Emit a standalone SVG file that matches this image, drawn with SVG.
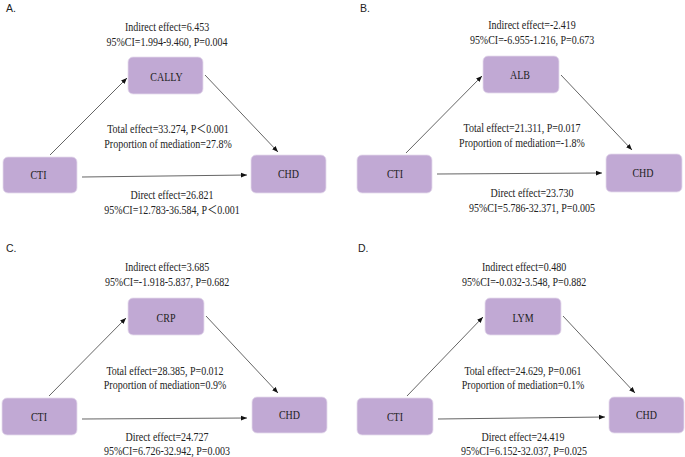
<svg xmlns="http://www.w3.org/2000/svg" width="685" height="457" viewBox="0 0 685 457">
<defs>
<marker id="ah" viewBox="0 0 10 10" refX="10" refY="5" markerWidth="6" markerHeight="6" orient="auto" markerUnits="userSpaceOnUse">
<path d="M0,1 L10,5 L0,9 z" fill="#111"/>
</marker>
<style>
.box{fill:#c1a9d4;stroke:#e4dbec;stroke-width:0.8}
.nt{font-family:"Liberation Serif","Times New Roman",serif;font-size:11.5px;fill:#222;text-anchor:middle}
.lt{font-family:"Liberation Serif","Times New Roman","Noto Sans CJK SC",serif;font-size:11.5px;fill:#222;text-anchor:middle}
.pl{font-family:"Liberation Sans",Arial,sans-serif;font-size:10.5px;fill:#222}
.ln{stroke:#222;stroke-width:0.7;fill:none;marker-end:url(#ah)}
</style>
</defs>
<rect width="685" height="457" fill="#fff"/>

<g id="labels">
<text class="pl" x="6" y="12">A.</text>
<text class="pl" x="360" y="12">B.</text>
<text class="pl" x="6" y="252">C.</text>
<text class="pl" x="358" y="252">D.</text>

<text class="lt" transform="translate(167,30.5) scale(0.87,1)">Indirect effect=6.453</text>
<text class="lt" transform="translate(167,45.5) scale(0.87,1)">95%CI=1.994-9.460, P=0.004</text>
<text class="lt" transform="translate(168,133) scale(0.87,1)">Total effect=33.274, P＜0.001</text>
<text class="lt" transform="translate(168,148) scale(0.87,1)">Proportion of mediation=27.8%</text>
<text class="lt" transform="translate(172,199) scale(0.87,1)">Direct effect=26.821</text>
<text class="lt" transform="translate(172,214) scale(0.87,1)">95%CI=12.783-36.584, P＜0.001</text>

<text class="lt" transform="translate(532,29) scale(0.87,1)">Indirect effect=-2.419</text>
<text class="lt" transform="translate(532,44) scale(0.87,1)">95%CI=-6.955-1.216, P=0.673</text>
<text class="lt" transform="translate(522,132) scale(0.87,1)">Total effect=21.311, P=0.017</text>
<text class="lt" transform="translate(522,147) scale(0.87,1)">Proportion of mediation=-1.8%</text>
<text class="lt" transform="translate(532,197) scale(0.87,1)">Direct effect=23.730</text>
<text class="lt" transform="translate(532,212) scale(0.87,1)">95%CI=5.786-32.371, P=0.005</text>

<text class="lt" transform="translate(167,270.5) scale(0.87,1)">Indirect effect=3.685</text>
<text class="lt" transform="translate(167,285.5) scale(0.87,1)">95%CI=-1.918-5.837, P=0.682</text>
<text class="lt" transform="translate(165,375) scale(0.87,1)">Total effect=28.385, P=0.012</text>
<text class="lt" transform="translate(165,389) scale(0.87,1)">Proportion of mediation=0.9%</text>
<text class="lt" transform="translate(167,440.5) scale(0.87,1)">Direct effect=24.727</text>
<text class="lt" transform="translate(167,455) scale(0.87,1)">95%CI=6.726-32.942, P=0.003</text>

<text class="lt" transform="translate(524,270.5) scale(0.87,1)">Indirect effect=0.480</text>
<text class="lt" transform="translate(524,285.5) scale(0.87,1)">95%CI=-0.032-3.548, P=0.882</text>
<text class="lt" transform="translate(523,375) scale(0.87,1)">Total effect=24.629, P=0.061</text>
<text class="lt" transform="translate(523,389) scale(0.87,1)">Proportion of mediation=0.1%</text>
<text class="lt" transform="translate(523,440.5) scale(0.87,1)">Direct effect=24.419</text>
<text class="lt" transform="translate(524,455) scale(0.87,1)">95%CI=6.152-32.037, P=0.025</text>
</g>

<g id="connectors">
<line class="ln" x1="50" y1="155" x2="127" y2="78"/>
<line class="ln" x1="205" y1="75" x2="278" y2="152"/>
<line class="ln" x1="82" y1="177" x2="247" y2="175"/>

<line class="ln" x1="406" y1="153" x2="482" y2="76"/>
<line class="ln" x1="561" y1="75" x2="632" y2="150"/>
<line class="ln" x1="437" y1="174" x2="602" y2="173"/>

<line class="ln" x1="49" y1="396" x2="126" y2="318"/>
<line class="ln" x1="206" y1="316" x2="278" y2="393"/>
<line class="ln" x1="82" y1="419" x2="247" y2="418"/>

<line class="ln" x1="407" y1="396" x2="483" y2="317"/>
<line class="ln" x1="563" y1="316" x2="635" y2="393"/>
<line class="ln" x1="438" y1="419" x2="605" y2="417"/>
</g>

<g id="A-CALLY"><rect class="box" x="128" y="57" width="75" height="37" rx="5"/><text class="nt" transform="translate(166.5,80.5) scale(0.87,1)">CALLY</text></g>
<g id="A-CTI"><rect class="box" x="3" y="157" width="74" height="36" rx="5"/><text class="nt" transform="translate(38.5,179) scale(0.87,1)">CTI</text></g>
<g id="A-CHD"><rect class="box" x="251" y="155" width="75" height="38" rx="5"/><text class="nt" transform="translate(288.5,178) scale(0.87,1)">CHD</text></g>

<g id="B-ALB"><rect class="box" x="483" y="56" width="76" height="37" rx="5"/><text class="nt" transform="translate(520,79) scale(0.87,1)">ALB</text></g>
<g id="B-CTI"><rect class="box" x="357" y="155" width="75" height="38" rx="5"/><text class="nt" transform="translate(395,178) scale(0.87,1)">CTI</text></g>
<g id="B-CHD"><rect class="box" x="606" y="154" width="76" height="38" rx="5"/><text class="nt" transform="translate(643,176.5) scale(0.87,1)">CHD</text></g>

<g id="C-CRP"><rect class="box" x="128" y="298" width="76" height="37" rx="5"/><text class="nt" transform="translate(166,321.5) scale(0.87,1)">CRP</text></g>
<g id="C-CTI"><rect class="box" x="2" y="398" width="75" height="37" rx="5"/><text class="nt" transform="translate(39,420.5) scale(0.87,1)">CTI</text></g>
<g id="C-CHD"><rect class="box" x="252" y="397" width="75" height="36" rx="5"/><text class="nt" transform="translate(289.5,419) scale(0.87,1)">CHD</text></g>

<g id="D-LYM"><rect class="box" x="485" y="298" width="76" height="37" rx="5"/><text class="nt" transform="translate(523,321.5) scale(0.87,1)">LYM</text></g>
<g id="D-CTI"><rect class="box" x="357" y="398" width="76" height="37" rx="5"/><text class="nt" transform="translate(395,420.5) scale(0.87,1)">CTI</text></g>
<g id="D-CHD"><rect class="box" x="609" y="397" width="75" height="36" rx="5"/><text class="nt" transform="translate(646.5,419) scale(0.87,1)">CHD</text></g>
</svg>
